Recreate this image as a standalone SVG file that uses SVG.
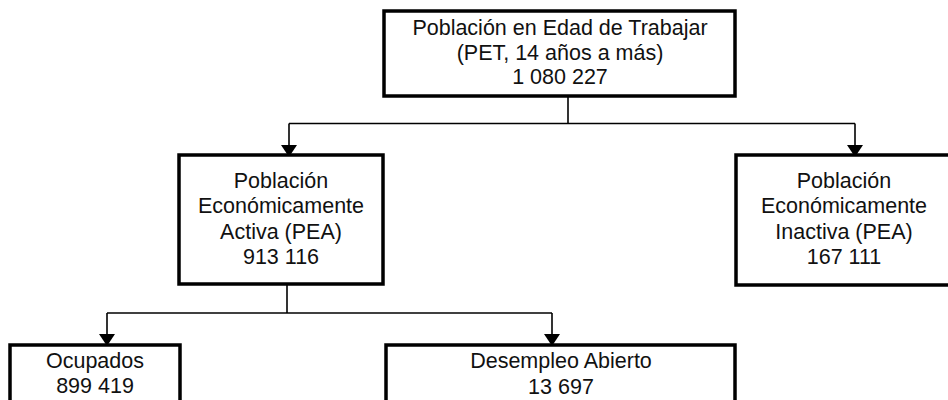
<svg xmlns="http://www.w3.org/2000/svg" width="948" height="400" viewBox="0 0 948 400">
<style>
.box{fill:#fff;stroke:#000;stroke-width:3.5}
.lbl{font-family:"Liberation Sans",Arial,sans-serif;font-size:21.5px;fill:#111;text-anchor:middle}
.con{fill:none;stroke:#000;stroke-width:1.6}
</style>
<defs>
<marker id="arr" viewBox="0 0 12 16" refX="12" refY="8" markerWidth="12" markerHeight="16" markerUnits="userSpaceOnUse" orient="auto">
<path d="M0,0 L12,8 L0,16 z" fill="#000"/>
</marker>
</defs>
<rect width="948" height="400" fill="#fff"/>
<g id="connectors">
<path class="con" d="M568,96 V123.5"/>
<path class="con" d="M289,123.5 H855"/>
<path class="con" d="M289,123.5 V157" marker-end="url(#arr)"/>
<path class="con" d="M855,123.5 V157" marker-end="url(#arr)"/>
<path class="con" d="M287,284 V313"/>
<path class="con" d="M107,313 H552"/>
<path class="con" d="M107,313 V346" marker-end="url(#arr)"/>
<path class="con" d="M552,313 V346" marker-end="url(#arr)"/>
</g>
<g id="pet">
<rect class="box" x="384" y="11" width="351" height="85"/>
<text class="lbl" x="560" y="35">Población en Edad de Trabajar</text>
<text class="lbl" x="560" y="59.5">(PET, 14 años a más)</text>
<text class="lbl" x="560" y="84">1 080 227</text>
</g>
<g id="pea">
<rect class="box" x="179" y="155" width="204" height="129"/>
<text class="lbl" x="281" y="188">Población</text>
<text class="lbl" x="281" y="213">Económicamente</text>
<text class="lbl" x="281" y="238.5">Activa (PEA)</text>
<text class="lbl" x="281" y="263.5">913 116</text>
</g>
<g id="pei">
<rect class="box" x="736" y="155" width="218" height="130"/>
<text class="lbl" x="844" y="188">Población</text>
<text class="lbl" x="844" y="213">Económicamente</text>
<text class="lbl" x="844" y="238.5">Inactiva (PEA)</text>
<text class="lbl" x="844" y="263.5">167 111</text>
</g>
<g id="ocupados">
<rect class="box" x="10" y="345" width="170" height="60"/>
<text class="lbl" x="95" y="368">Ocupados</text>
<text class="lbl" x="95" y="393">899 419</text>
</g>
<g id="desempleo">
<rect class="box" x="386" y="345" width="349" height="60"/>
<text class="lbl" x="561" y="367.5">Desempleo Abierto</text>
<text class="lbl" x="561" y="393.5">13 697</text>
</g>
</svg>
